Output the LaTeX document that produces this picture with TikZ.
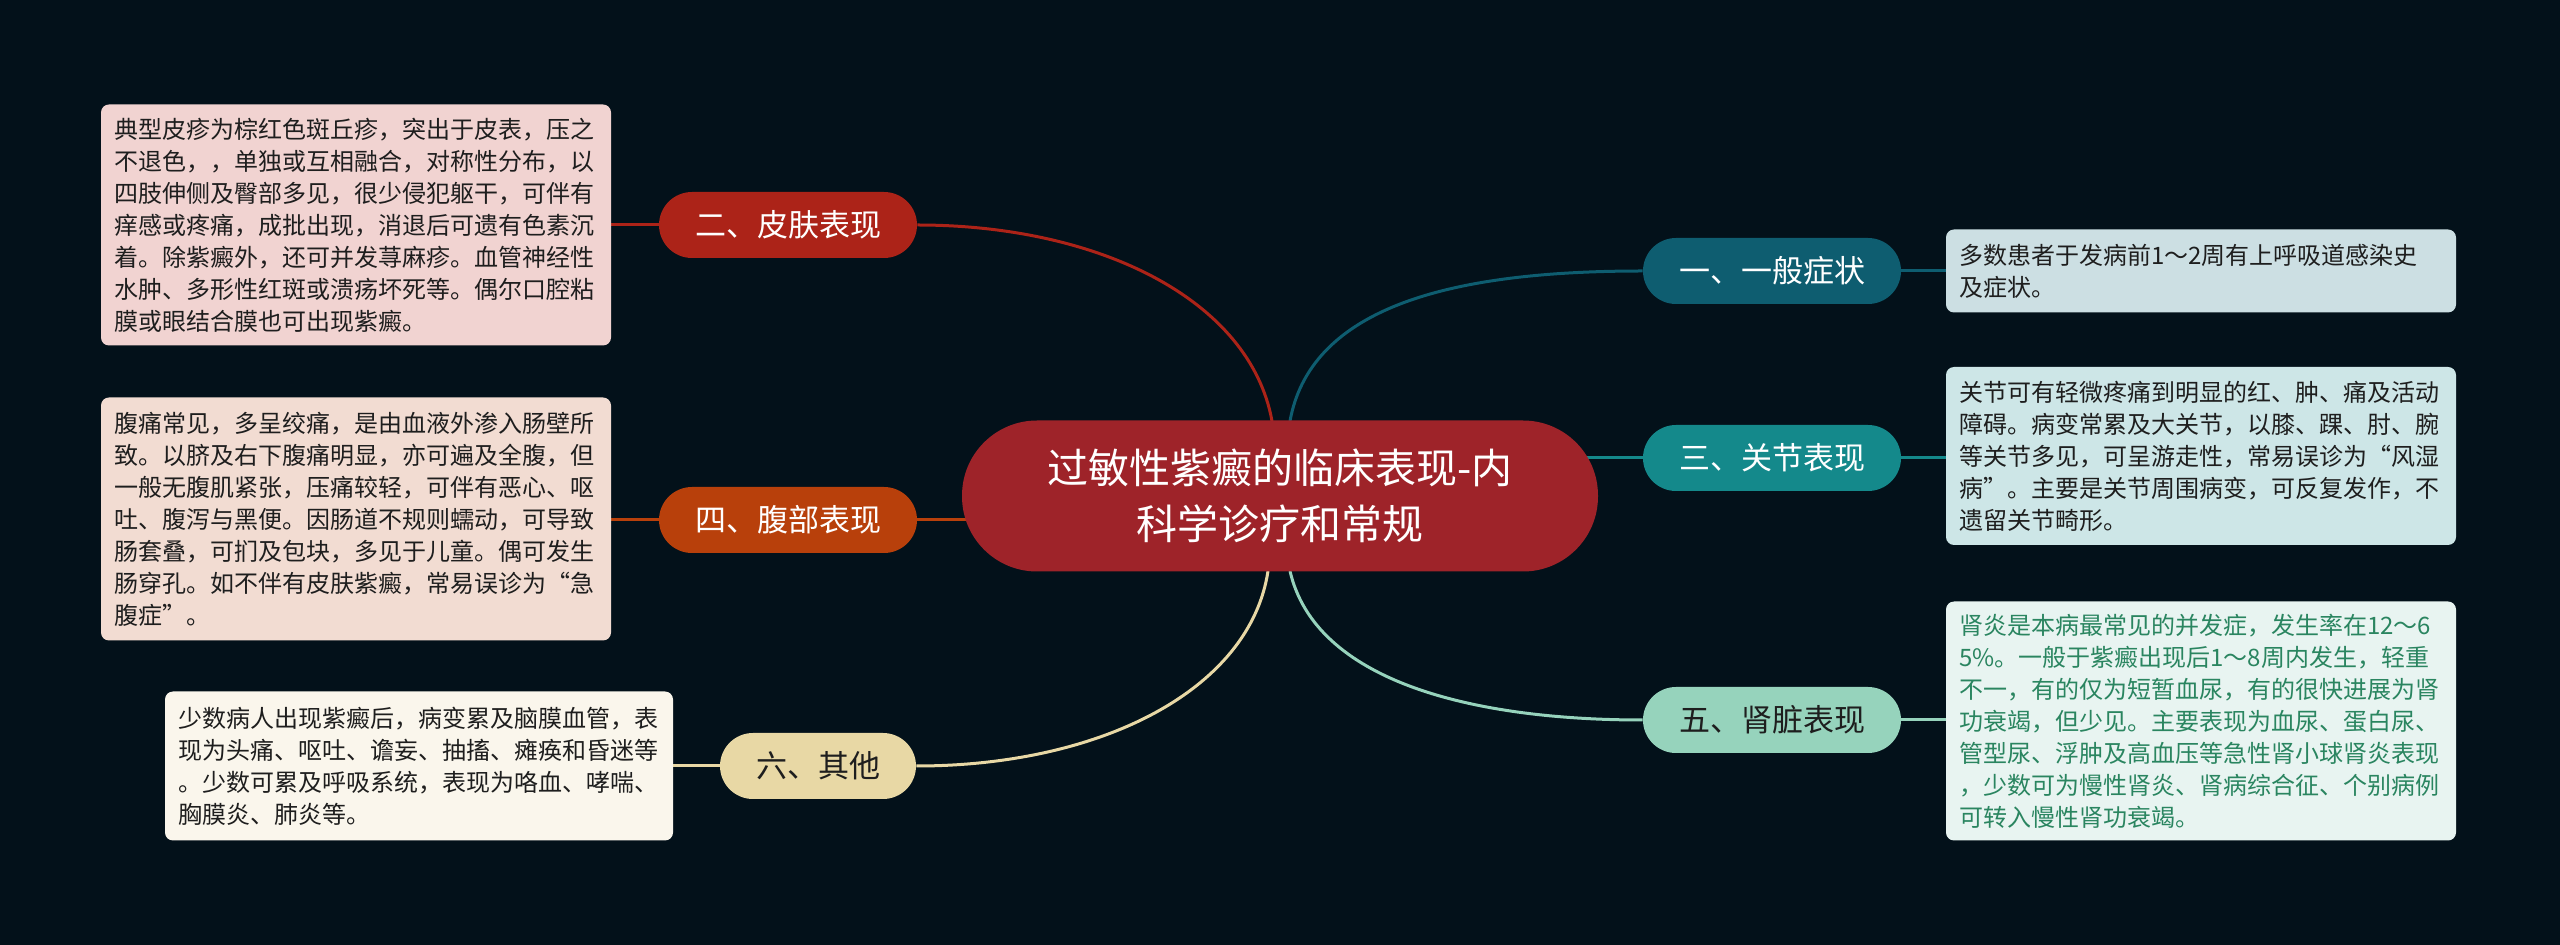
\documentclass[tikz,border=0pt]{standalone}
\usepackage{fontspec}
\setmainfont{Noto Sans CJK SC}
\usetikzlibrary{backgrounds}
\definecolor{bg}{HTML}{03111A}
\definecolor{cRoot}{HTML}{9E2329}
\definecolor{cSkin}{HTML}{AC2318}
\definecolor{cAbd}{HTML}{B8400B}
\definecolor{cOther}{HTML}{E8D8A5}
\definecolor{cGen}{HTML}{0E5D70}
\definecolor{cJoint}{HTML}{14898B}
\definecolor{cKid}{HTML}{96D3BC}
\definecolor{fSkin}{HTML}{F1D3D1}
\definecolor{fAbd}{HTML}{F2DCD2}
\definecolor{fOther}{HTML}{FAF6EC}
\definecolor{fGen}{HTML}{CCDFE3}
\definecolor{fJoint}{HTML}{CDE6E7}
\definecolor{fKid}{HTML}{E8F4F1}
\definecolor{txtdark}{HTML}{1E1E1E}
\definecolor{txtgreen}{HTML}{2A8560}
\begin{document}
\begin{tikzpicture}[x=0.5pt,y=-0.5pt,
  lvl/.style={rectangle, rounded corners=16.5pt, minimum height=33pt, minimum width=129pt, inner sep=0pt, font=\fontsize{15.5}{18}\selectfont, text=white},
  tbox/.style={rectangle, rounded corners=4pt, align=left, text width=242pt, inner xsep=6.5pt, inner ysep=0pt, font=\fontsize{12}{16}\selectfont, text=txtdark},
  conn/.style={line width=1.5pt}]
\useasboundingbox (0,0) rectangle (2560,945);

\coordinate (rs1) at (1272,421);
\coordinate (rs2) at (1290,421);
\coordinate (rs3) at (1268,571);
\coordinate (rs4) at (1290,571);

% central node
\node[fill=cRoot, rounded corners=37.5pt, minimum width=318pt, minimum height=75.5pt, inner sep=0pt, align=center, text=white, font=\fontsize{20.5}{28}\selectfont] (root) at (1280,496) {过敏性紫癜的临床表现-内\\科学诊疗和常规};

% level-1 nodes
\node[lvl, fill=cSkin] (n2) at (788,225) {二、皮肤表现};
\node[lvl, fill=cAbd] (n4) at (788,520) {四、腹部表现};
\node[lvl, fill=cOther, minimum width=98pt, text=txtdark] (n6) at (818,766) {六、其他};
\node[lvl, fill=cGen] (n1) at (1772,271) {一、一般症状};
\node[lvl, fill=cJoint] (n3) at (1772,458) {三、关节表现};
\node[lvl, fill=cKid, text=txtdark] (n5) at (1772,720) {五、肾脏表现};

% text boxes
\node[tbox, fill=fSkin, minimum height=120.5pt] (b2) at (356,225) {典型皮疹为棕红色斑丘疹，突出于皮表，压之\\不退色，，单独或互相融合，对称性分布，以\\四肢伸侧及臀部多见，很少侵犯躯干，可伴有\\痒感或疼痛，成批出现，消退后可遗有色素沉\\着。除紫癜外，还可并发荨麻疹。血管神经性\\水肿、多形性红斑或溃疡坏死等。偶尔口腔粘\\膜或眼结合膜也可出现紫癜。};
\node[tbox, fill=fAbd, minimum height=121.5pt] (b4) at (356,519) {腹痛常见，多呈绞痛，是由血液外渗入肠壁所\\致。以脐及右下腹痛明显，亦可遍及全腹，但\\一般无腹肌紧张，压痛较轻，可伴有恶心、呕\\吐、腹泻与黑便。因肠道不规则蠕动，可导致\\肠套叠，可扪及包块，多见于儿童。偶可发生\\肠穿孔。如不伴有皮肤紫癜，常易误诊为“急\\腹症”。};
\node[tbox, fill=fOther, minimum height=74.5pt, text width=241pt, inner xsep=6.5pt] (b6) at (419,766) {少数病人出现紫癜后，病变累及脑膜血管，表\\现为头痛、呕吐、谵妄、抽搐、瘫痪和昏迷等\\。少数可累及呼吸系统，表现为咯血、哮喘、\\胸膜炎、肺炎等。};
\node[tbox, fill=fGen, minimum height=41.5pt] (b1) at (2201,271) {多数患者于发病前1～2周有上呼吸道感染史\\及症状。};
\node[tbox, fill=fJoint, minimum height=89pt] (b3) at (2201,456) {关节可有轻微疼痛到明显的红、肿、痛及活动\\障碍。病变常累及大关节，以膝、踝、肘、腕\\等关节多见，可呈游走性，常易误诊为“风湿\\病”。主要是关节周围病变，可反复发作，不\\遗留关节畸形。};
\node[tbox, fill=fKid, minimum height=119.5pt, text=txtgreen] (b5) at (2201,721) {肾炎是本病最常见的并发症，发生率在12～6\\5\%。一般于紫癜出现后1～8周内发生，轻重\\不一，有的仅为短暂血尿，有的很快进展为肾\\功衰竭，但少见。主要表现为血尿、蛋白尿、\\管型尿、浮肿及高血压等急性肾小球肾炎表现\\，少数可为慢性肾炎、肾病综合征、个别病例\\可转入慢性肾功衰竭。};

\begin{scope}[on background layer]
\fill[bg] (0,0) rectangle (2560,945);
\draw[conn, cSkin] (rs1) .. controls +(-22,-121) and +(182,0) .. (n2.east);
\draw[conn, cGen] (rs2) .. controls +(22,-121) and +(-174,0) .. (n1.west);
\draw[conn, cOther] (rs3) .. controls +(-18,119) and +(184,0) .. (n6.east);
\draw[conn, cKid] (rs4) .. controls +(25,109) and +(-174,0) .. (n5.west);
\draw[conn, cAbd] (n4.east) -- (n4.east -| root.center);
\draw[conn, cJoint] (n3.west) -- (n3.west -| root.center);
\draw[conn, cSkin] (n2.west) -- (n2.west -| b2.east);
\draw[conn, cAbd] (n4.west) -- (n4.west -| b4.east);
\draw[conn, cOther] (n6.west) -- (n6.west -| b6.east);
\draw[conn, cGen] (n1.east) -- (n1.east -| b1.west);
\draw[conn, cJoint] (n3.east) -- (n3.east -| b3.west);
\draw[conn, cKid] (n5.east) -- (n5.east -| b5.west);
\end{scope}
\end{tikzpicture}
\end{document}
